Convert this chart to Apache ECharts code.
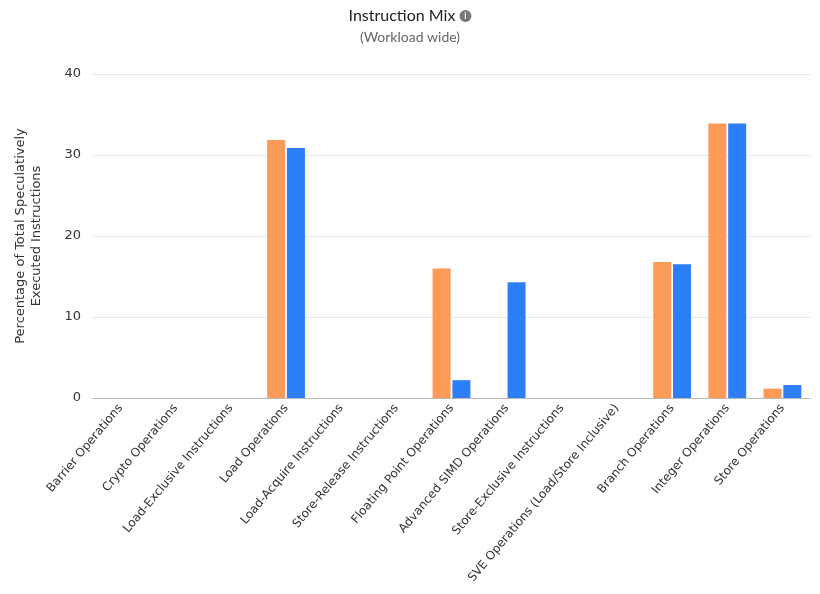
<!DOCTYPE html>
<html>
<head>
<meta charset="utf-8">
<script src="https://cdn.jsdelivr.net/npm/echarts@6/dist/echarts.min.js"></script>
<style>
  html, body { margin: 0; padding: 0; background: #fff; }
  #chart { width: 820px; height: 594px; }
</style>
</head>
<body>
<div id="chart"></div>
<script>
const categories = [
  'Barrier Operations',
  'Crypto Operations',
  'Load-Exclusive Instructions',
  'Load Operations',
  'Load-Acquire Instructions',
  'Store-Release Instructions',
  'Floating Point Operations',
  'Advanced SIMD Operations',
  'Store-Exclusive Instructions',
  'SVE Operations (Load/Store Inclusive)',
  'Branch Operations',
  'Integer Operations',
  'Store Operations'
]
const seriesA = [0, 0, 0, 31.85, 0, 0, 16.0, 0, 0, 0, 16.8, 33.9, 1.15]
const seriesB = [0, 0, 0, 30.85, 0, 0, 2.2, 14.3, 0, 0, 16.5, 33.9, 1.6]
const yTicks = [0, 10, 20, 30, 40]

const chart = echarts.init(document.getElementById('chart'))
const option = {
  animation: false,
  title: {
    text: 'Instruction Mix {icon|i}',
    subtext: '(Workload wide)',
    left: 'center',
    top: 3,
    itemGap: 6,
    textStyle: {
      fontFamily: 'Lato',
      fontSize: 16,
      fontWeight: 'normal',
      color: '#222',
      rich: {
        icon: {
          backgroundColor: '#777',
          color: '#fff',
          borderRadius: 6,
          width: 12,
          height: 12,
          align: 'center',
          fontSize: 9,
          fontWeight: 'bold',
          fontFamily: 'Lato',
          lineHeight: 12
        }
      }
    },
    subtextStyle: {
      fontFamily: 'Lato',
      fontSize: 14,
      color: '#666'
    }
  },
  grid: {
    left: 93,
    right: 10,
    top: 74,
    bottom: 196
  },
  xAxis: {
    type: 'category',
    data: categories,
    axisLine: { lineStyle: { color: '#bbb' } },
    axisTick: { show: false },
    axisLabel: {
      interval: 0,
      rotate: 50,
      fontFamily: 'DejaVu Sans',
      fontSize: 12,
      color: '#333',
      margin: 8
    }
  },
  yAxis: {
    type: 'value',
    min: 0,
    max: 40,
    interval: 10,
    name: 'Percentage of Total Speculatively\nExecuted Instructions',
    nameLocation: 'middle',
    nameGap: 48,
    nameTextStyle: {
      fontFamily: 'DejaVu Sans',
      fontSize: 13,
      color: '#333',
      lineHeight: 16
    },
    axisLine: { show: false },
    axisTick: { show: false },
    axisLabel: {
      fontFamily: 'DejaVu Sans',
      fontSize: 13,
      color: '#333',
      margin: 12,
      formatter: function (v) {
        return yTicks.indexOf(v) >= 0 ? String(v) : ''
      }
    },
    splitLine: { lineStyle: { color: '#e8e8e8' } }
  },
  series: [
    {
      name: 'A',
      type: 'bar',
      data: seriesA,
      barWidth: 18,
      barGap: '10%',
      itemStyle: { color: '#fd9a58' }
    },
    {
      name: 'B',
      type: 'bar',
      data: seriesB,
      barWidth: 18,
      barGap: '10%',
      itemStyle: { color: '#2c7ff8' }
    }
  ]
}
chart.setOption(option)
</script>
</body>
</html>
